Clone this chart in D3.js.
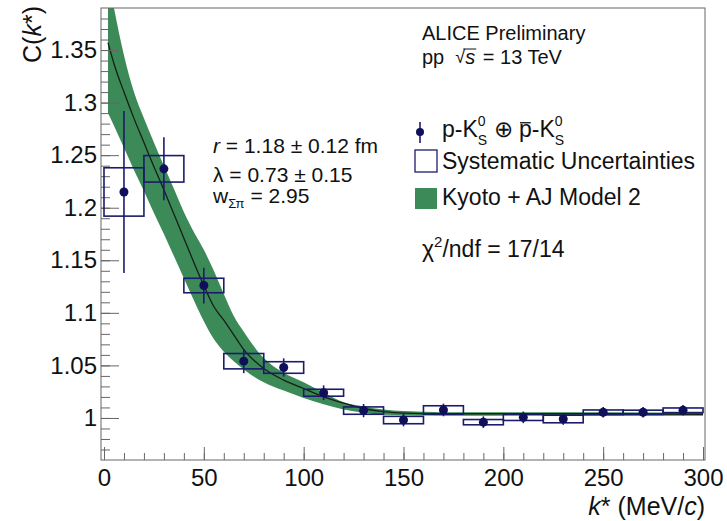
<!DOCTYPE html>
<html>
<head>
<meta charset="utf-8">
<script src="https://cdn.jsdelivr.net/npm/d3@7"></script>
<style>
  body { margin: 0; background: #fff; }
  text { font-family: "Liberation Sans", Arial, Helvetica, sans-serif; fill: #111; white-space: pre; }
</style>
</head>
<body>
<div id="container"></div>
<script>
/* DATA */
// measured points: bin centre, value, stat error, syst error
const kStar  = [10, 30, 50, 70, 90, 110, 130, 150, 170, 190, 210, 230, 250, 270, 290];
const cVal   = [1.215, 1.237, 1.126, 1.054, 1.048, 1.024, 1.007, 0.998, 1.0076, 0.996, 1.0006, 0.999, 1.0054, 1.0054, 1.0073];
const statErr = [0.077, 0.030, 0.017, 0.0114, 0.0087, 0.007, 0.0063, 0.006, 0.006, 0.0055, 0.0055, 0.0055, 0.005, 0.005, 0.005];
const sysErr  = [0.023, 0.0126, 0.0069, 0.0073, 0.0055, 0.0033, 0.0035, 0.0035, 0.004, 0.0025, 0.003, 0.0036, 0.0022, 0.002, 0.0022];
const binHalf = 10;

// model (Kyoto + AJ Model 2): central curve and band edges
const modelK  = [2, 5, 10, 15, 20, 25, 30, 35, 40, 45, 50, 55, 60, 65, 70, 80, 90, 100, 110, 120, 130, 140, 150, 170, 200, 250, 300];
const modelC  = [1.357, 1.337, 1.310, 1.285, 1.262, 1.239, 1.217, 1.194, 1.171, 1.148, 1.126, 1.106, 1.093, 1.079, 1.065, 1.047, 1.036, 1.028, 1.020, 1.014, 1.009, 1.006, 1.0045, 1.004, 1.004, 1.004, 1.0035];
const bandLo  = [1.29, 1.278, 1.257, 1.236, 1.216, 1.195, 1.175, 1.154, 1.133, 1.112, 1.092, 1.075, 1.063, 1.054, 1.046, 1.034, 1.026, 1.019, 1.013, 1.008, 1.005, 1.003, 1.0025, 1.0022, 1.0022, 1.0022, 1.002];
const bandHi  = [1.42, 1.39, 1.345, 1.31, 1.285, 1.262, 1.24, 1.218, 1.196, 1.177, 1.160, 1.14, 1.118, 1.097, 1.082, 1.057, 1.043, 1.034, 1.024, 1.015, 1.011, 1.008, 1.0065, 1.0055, 1.0055, 1.0055, 1.005];

// ticks
const xMajor = [0, 50, 100, 150, 200, 250, 300];
const xMinor = d3.range(10, 300, 10);
const yMajor = [1, 1.05, 1.1, 1.15, 1.2, 1.25, 1.3, 1.35];
const yTickLabels = ["1", "1.05", "1.1", "1.15", "1.2", "1.25", "1.3", "1.35"];
const yMinor = d3.range(97, 139).map(d => d / 100);

/* CONSTANTS */
const width = 727;
const height = 521;
const navy = "#1c1c6c";
const green = "#3b8a57";
const axisCol = "#666";

const xScale = d3.scaleLinear().domain([-1.5, 301]).range([101, 705]);
const yScale = d3.scaleLinear().domain([0.96, 1.39]).range([460, 8]);

const svg = d3.select("#container")
  .append("svg")
  .attr("width", width)
  .attr("height", height)
  .attr("xml:space", "preserve");

svg.append("clipPath").attr("id", "plot")
  .append("rect")
  .attr("x", 101).attr("y", 8).attr("width", 604).attr("height", 452);

const model = modelK.map((k, i) => ({ k, c: modelC[i], lo: bandLo[i], hi: bandHi[i] }));
const points = kStar.map((k, i) => ({ k, c: cVal[i], st: statErr[i], sy: sysErr[i] }));

// band
const area = d3.area()
  .x(d => xScale(d.k))
  .y0(d => yScale(d.lo))
  .y1(d => yScale(d.hi))
  .curve(d3.curveMonotoneX);
svg.append("path")
  .datum(model)
  .attr("clip-path", "url(#plot)")
  .attr("d", area)
  .attr("fill", green);

// central line
const line = d3.line()
  .x(d => xScale(d.k))
  .y(d => yScale(d.c))
  .curve(d3.curveMonotoneX);
svg.append("path")
  .datum(model)
  .attr("clip-path", "url(#plot)")
  .attr("d", line)
  .attr("fill", "none")
  .attr("stroke", "#152015")
  .attr("stroke-width", 1.3);

// axes
const yAxis = d3.axisLeft(yScale).tickValues(yMajor).tickSize(-18).tickSizeOuter(0).tickPadding(4)
  .tickFormat((d, i) => yTickLabels[i]);
const yAxisMinor = d3.axisLeft(yScale).tickValues(yMinor).tickSize(-9).tickSizeOuter(0).tickFormat("");
const xAxis = d3.axisBottom(xScale).tickValues(xMajor).tickSize(-13).tickSizeOuter(0).tickPadding(9);
const xAxisMinor = d3.axisBottom(xScale).tickValues(xMinor).tickSize(-7).tickSizeOuter(0).tickFormat("");

[[yAxis, `translate(101,0)`], [yAxisMinor, `translate(101,0)`], [xAxis, `translate(0,460)`], [xAxisMinor, `translate(0,460)`]]
  .forEach(([ax, tr]) => {
    const g = svg.append("g").attr("transform", tr).call(ax);
    g.select(".domain").remove();
    g.selectAll("line").attr("stroke", axisCol);
    g.selectAll("text").attr("font-size", 24).attr("fill", "#111")
      .attr("font-family", '"Liberation Sans", Arial, sans-serif');
  });

svg.append("rect")
  .attr("x", 101).attr("y", 8).attr("width", 604).attr("height", 452)
  .attr("fill", "none").attr("stroke", axisCol);

// systematic boxes
svg.selectAll("rect.sys")
  .data(points)
  .join("rect")
  .attr("class", "sys")
  .attr("x", d => xScale(d.k - binHalf))
  .attr("y", d => yScale(d.c + d.sy))
  .attr("width", d => xScale(d.k + binHalf) - xScale(d.k - binHalf))
  .attr("height", d => yScale(d.c - d.sy) - yScale(d.c + d.sy))
  .attr("fill", "none")
  .attr("stroke", navy)
  .attr("stroke-width", 1.6);

// stat errors
svg.selectAll("line.stat")
  .data(points)
  .join("line")
  .attr("class", "stat")
  .attr("x1", d => xScale(d.k)).attr("x2", d => xScale(d.k))
  .attr("y1", d => yScale(d.c + d.st)).attr("y2", d => yScale(d.c - d.st))
  .attr("stroke", navy).attr("stroke-width", 1.6);

svg.selectAll("circle.pt")
  .data(points)
  .join("circle")
  .attr("class", "pt")
  .attr("cx", d => xScale(d.k)).attr("cy", d => yScale(d.c))
  .attr("r", 4.5)
  .attr("fill", "#0f0f5a");

/* TEXT helpers */
function rich(x, y, pieces) {
  let cx = x;
  pieces.forEach(p => {
    const size = p.size || 23;
    if (p.stack) {
      const a = svg.append("text").attr("x", cx).attr("y", y + p.stack[2]).attr("font-size", p.stack[4]).text(p.stack[0]);
      const b = svg.append("text").attr("x", cx).attr("y", y + p.stack[3]).attr("font-size", p.stack[4]).text(p.stack[1]);
      cx += Math.max(a.node().getComputedTextLength(), b.node().getComputedTextLength());
      return;
    }
    const t = svg.append("text").attr("x", cx).attr("y", y + (p.dy || 0))
      .attr("font-size", size).text(p.t);
    if (p.italic) t.attr("font-style", "italic");
    const w = t.node().getComputedTextLength();
    if (p.bar) {
      svg.append("line")
        .attr("x1", cx + 1).attr("x2", cx + w - 1)
        .attr("y1", y - size * 0.62).attr("y2", y - size * 0.62)
        .attr("stroke", "#111").attr("stroke-width", 1.3);
    }
    cx += w + (p.gap || 0);
  });
  return cx;
}

// y title
svg.append("text")
  .attr("transform", "translate(41,6) rotate(-90)")
  .attr("text-anchor", "end")
  .attr("font-size", 25)
  .html('C(<tspan font-style="italic">k</tspan>*)');

// x title
svg.append("text")
  .attr("x", 705).attr("y", 515)
  .attr("text-anchor", "end")
  .attr("font-size", 25)
  .html('<tspan font-style="italic">k</tspan>* (MeV/<tspan font-style="italic">c</tspan>)');

// header
svg.append("text").attr("x", 422).attr("y", 40).attr("font-size", 20).text("ALICE Preliminary");
const ppEnd = rich(422, 64, [{ t: "pp  ", size: 20 }, { t: "\u221A", size: 18, dy: -1 }]);
const sT = svg.append("text").attr("x", ppEnd).attr("y", 64).attr("font-size", 20).attr("font-style", "italic").text("s");
const sW = sT.node().getComputedTextLength();
svg.append("line").attr("x1", ppEnd - 2).attr("x2", ppEnd + sW + 1).attr("y1", 49).attr("y2", 49)
  .attr("stroke", "#111").attr("stroke-width", 1);
svg.append("text").attr("x", ppEnd + sW + 2).attr("y", 64).attr("font-size", 20).text(" = 13 TeV");

// legend
svg.append("line").attr("x1", 420).attr("x2", 420).attr("y1", 122).attr("y2", 143)
  .attr("stroke", navy).attr("stroke-width", 1.6);
svg.append("circle").attr("cx", 420).attr("cy", 132).attr("r", 4).attr("fill", "#0f0f5a");
rich(442, 137, [
  { t: "p-K" },
  { stack: ["0", "S", -11, 8, 14] },
  { t: " \u2295 " },
  { t: "p", bar: true },
  { t: "-K" },
  { stack: ["0", "S", -11, 8, 14] }
]);

svg.append("rect").attr("x", 415).attr("y", 150).attr("width", 22).attr("height", 22)
  .attr("fill", "none").attr("stroke", navy).attr("stroke-width", 1.3);
svg.append("text").attr("x", 442).attr("y", 169).attr("font-size", 23).text("Systematic Uncertainties");

svg.append("rect").attr("x", 415).attr("y", 188).attr("width", 22).attr("height", 21)
  .attr("fill", green);
svg.append("text").attr("x", 442).attr("y", 205).attr("font-size", 23).text("Kyoto + AJ Model 2");

rich(422, 257, [
  { t: "\u03C7" },
  { t: "2", size: 15, dy: -10 },
  { t: "/ndf = 17/14" }
]);

// fit parameters
rich(213, 153, [{ t: "r", italic: true, size: 21 }, { t: " = 1.18 \u00B1 0.12 fm", size: 21 }]);
svg.append("text").attr("x", 213).attr("y", 182).attr("font-size", 21).text("\u03BB = 0.73 \u00B1 0.15");
rich(213, 203, [{ t: "w", size: 21 }, { t: "\u03A3\u03C0", size: 13, dy: 5 }, { t: " = 2.95", size: 21 }]);
</script>
</body>
</html>
